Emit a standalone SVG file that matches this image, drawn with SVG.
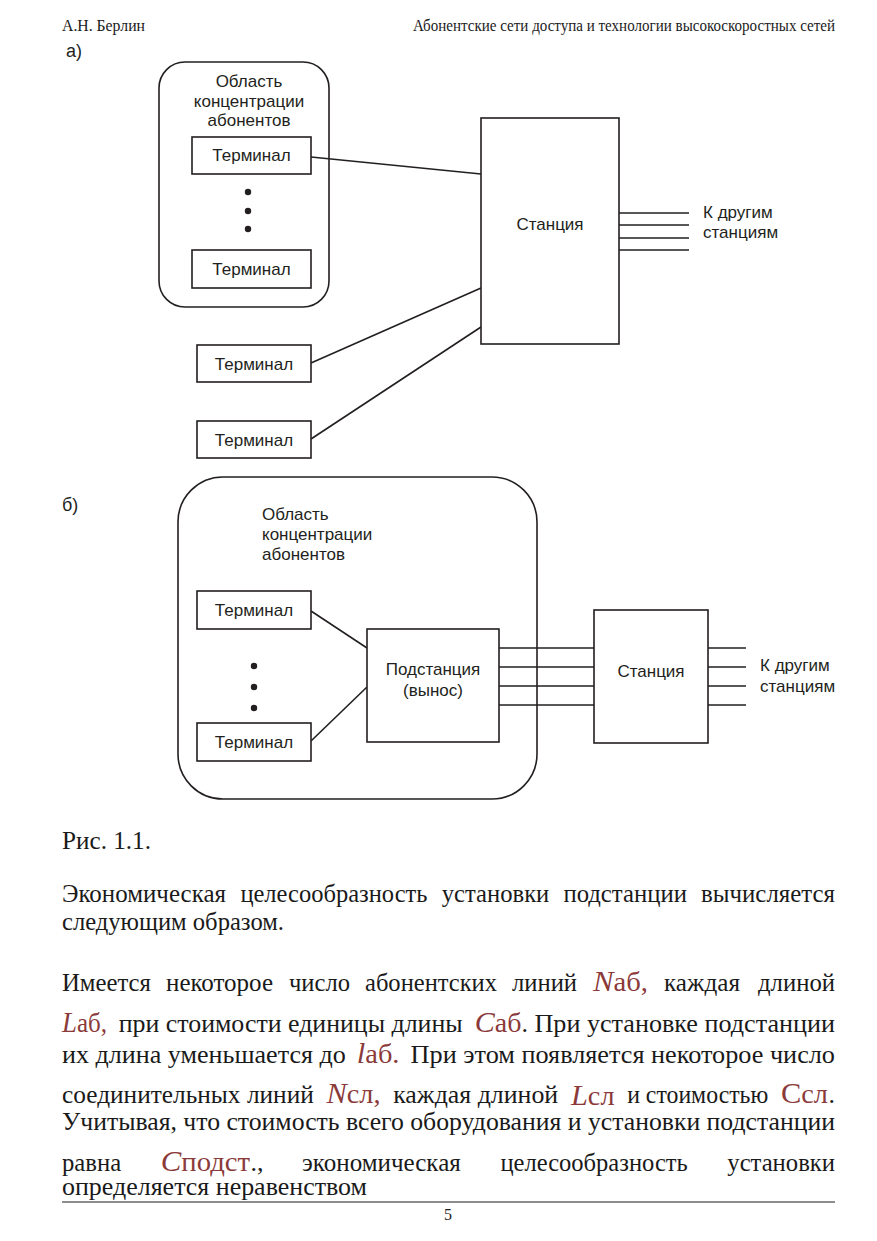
<svg xmlns="http://www.w3.org/2000/svg" width="877" height="1241" viewBox="0 0 877 1241">
<style>
.d{font-family:"Liberation Sans",Arial,sans-serif;font-size:17px;fill:#231f20}
.ln{stroke:#231f20;stroke-width:1.6;fill:none}
.box{stroke:#231f20;stroke-width:1.6;fill:#fff}
.b{font-family:"Liberation Serif","Times New Roman",serif;font-size:26px;fill:#1a1a1a}
.h{font-family:"Liberation Serif","Times New Roman",serif;font-size:16px;fill:#1a1a1a}
.m{font-family:"Liberation Serif","Times New Roman",serif;font-size:27px;fill:#8b3a3a}
.mi{font-style:italic;font-size:29px}
</style>
<rect width="877" height="1241" fill="#fff"/>
<g id="header">
<text class="h" x="62" y="31" textLength="83" lengthAdjust="spacingAndGlyphs">А.Н. Берлин</text>
<text class="h" x="413" y="31" textLength="422" lengthAdjust="spacingAndGlyphs">Абонентские сети доступа и технологии высокоскоростных сетей</text>
</g>
<text class="d" x="66" y="57" style="font-size:18px">а)</text>
<g id="area-a">
<rect class="ln" x="159" y="62" width="170" height="245" rx="26"/>
<text class="d" x="249" y="87" text-anchor="middle">Область</text>
<text class="d" x="249" y="107" text-anchor="middle">концентрации</text>
<text class="d" x="249" y="126" text-anchor="middle">абонентов</text>
<circle cx="248" cy="192" r="3.2" fill="#231f20"/>
<circle cx="248" cy="211" r="3.2" fill="#231f20"/>
<circle cx="248" cy="229" r="3.2" fill="#231f20"/>
</g>
<g id="area-b">
<rect class="ln" x="178" y="477" width="359" height="322" rx="45"/>
<text class="d" x="262" y="520">Область</text>
<text class="d" x="262" y="540">концентрации</text>
<text class="d" x="262" y="560">абонентов</text>
<circle cx="254" cy="666" r="3.2" fill="#231f20"/>
<circle cx="254" cy="687" r="3.2" fill="#231f20"/>
<circle cx="254" cy="708" r="3.2" fill="#231f20"/>
</g>
<g id="connectors">
<line class="ln" x1="311" y1="157" x2="481" y2="174"/>
<line class="ln" x1="311" y1="363" x2="481" y2="288"/>
<line class="ln" x1="311" y1="439" x2="481" y2="327"/>
<line class="ln" x1="619" y1="213" x2="689" y2="213"/>
<line class="ln" x1="619" y1="225" x2="689" y2="225"/>
<line class="ln" x1="619" y1="238" x2="689" y2="238"/>
<line class="ln" x1="619" y1="250" x2="689" y2="250"/>
<line class="ln" x1="311" y1="611" x2="367" y2="648"/>
<line class="ln" x1="311" y1="741" x2="367" y2="687"/>
<line class="ln" x1="499" y1="648" x2="594" y2="648"/>
<line class="ln" x1="499" y1="667" x2="594" y2="667"/>
<line class="ln" x1="499" y1="686" x2="594" y2="686"/>
<line class="ln" x1="499" y1="705" x2="594" y2="705"/>
<line class="ln" x1="708" y1="648" x2="746" y2="648"/>
<line class="ln" x1="708" y1="667" x2="746" y2="667"/>
<line class="ln" x1="708" y1="686" x2="746" y2="686"/>
<line class="ln" x1="708" y1="705" x2="746" y2="705"/>
</g>
<g id="term-a1"><rect class="box" x="192" y="137" width="119" height="37"/><text class="d" x="251.5" y="161" text-anchor="middle">Терминал</text></g>
<g id="term-a2"><rect class="box" x="192" y="250" width="119" height="38"/><text class="d" x="251.5" y="275" text-anchor="middle">Терминал</text></g>
<g id="term-a3"><rect class="box" x="197" y="345" width="114" height="37"/><text class="d" x="254" y="370" text-anchor="middle">Терминал</text></g>
<g id="term-a4"><rect class="box" x="197" y="421" width="114" height="37"/><text class="d" x="254" y="446" text-anchor="middle">Терминал</text></g>
<g id="station-a"><rect class="box" x="481" y="118" width="138" height="226"/><text class="d" x="550" y="230" text-anchor="middle">Станция</text></g>
<g id="label-a"><text class="d" x="703" y="218">К другим</text><text class="d" x="703" y="238">станциям</text></g>
<text class="d" x="62" y="511" style="font-size:18px">б)</text>
<g id="term-b1"><rect class="box" x="197" y="591" width="114" height="38"/><text class="d" x="254" y="616" text-anchor="middle">Терминал</text></g>
<g id="term-b2"><rect class="box" x="197" y="723" width="114" height="38"/><text class="d" x="254" y="748" text-anchor="middle">Терминал</text></g>
<g id="substation"><rect class="box" x="367" y="629" width="132" height="113"/><text class="d" x="433" y="675" text-anchor="middle">Подстанция</text><text class="d" x="433" y="696" text-anchor="middle">(вынос)</text></g>
<g id="station-b"><rect class="box" x="594" y="610" width="114" height="133"/><text class="d" x="651" y="677" text-anchor="middle">Станция</text></g>
<g id="label-b"><text class="d" x="760" y="671">К другим</text><text class="d" x="760" y="692">станциям</text></g>
<g id="body">
<text class="b" x="62" y="849" textLength="89" lengthAdjust="spacingAndGlyphs">Рис. 1.1.</text>
<g id="p1l1">
<text class="b" x="62" y="902" textLength="164" lengthAdjust="spacingAndGlyphs">Экономическая</text>
<text class="b" x="240.4" y="902" textLength="187" lengthAdjust="spacingAndGlyphs">целесообразность</text>
<text class="b" x="441.8" y="902" textLength="107.5" lengthAdjust="spacingAndGlyphs">установки</text>
<text class="b" x="563.4" y="902" textLength="123.5" lengthAdjust="spacingAndGlyphs">подстанции</text>
<text class="b" x="701" y="902" textLength="134" lengthAdjust="spacingAndGlyphs">вычисляется</text>
</g>
<text class="b" x="62" y="930" textLength="222" lengthAdjust="spacingAndGlyphs">следующим образом.</text>
<g id="p2l1">
<text class="b" x="62" y="991" textLength="89" lengthAdjust="spacingAndGlyphs">Имеется</text>
<text class="b" x="166" y="991" textLength="107" lengthAdjust="spacingAndGlyphs">некоторое</text>
<text class="b" x="289" y="991" textLength="61" lengthAdjust="spacingAndGlyphs">число</text>
<text class="b" x="365" y="991" textLength="132" lengthAdjust="spacingAndGlyphs">абонентских</text>
<text class="b" x="512" y="991" textLength="65" lengthAdjust="spacingAndGlyphs">линий</text>
<text class="m" x="593" y="991" textLength="55" lengthAdjust="spacingAndGlyphs"><tspan class="mi">N</tspan>аб,</text>
<text class="b" x="664" y="991" textLength="76" lengthAdjust="spacingAndGlyphs">каждая</text>
<text class="b" x="758" y="991" textLength="77" lengthAdjust="spacingAndGlyphs">длиной</text>
</g>
<g id="p2l2">
<text class="m" x="62" y="1032" textLength="45" lengthAdjust="spacingAndGlyphs"><tspan class="mi">L</tspan>аб,</text>
<text class="b" x="118.7" y="1032" textLength="344" lengthAdjust="spacingAndGlyphs">при стоимости единицы длины</text>
<text class="m" x="474.7" y="1032" textLength="46.7" lengthAdjust="spacingAndGlyphs"><tspan class="mi">C</tspan>аб</text>
<text class="b" x="521.4" y="1032" textLength="313.6" lengthAdjust="spacingAndGlyphs">. При установке подстанции</text>
</g>
<g id="p2l3">
<text class="b" x="62" y="1063" textLength="283.8" lengthAdjust="spacingAndGlyphs">их длина уменьшается до</text>
<text class="m" x="356.8" y="1063" textLength="42.7" lengthAdjust="spacingAndGlyphs"><tspan class="mi">l</tspan>аб.</text>
<text class="b" x="410.6" y="1063" textLength="424.4" lengthAdjust="spacingAndGlyphs">При этом появляется некоторое число</text>
</g>
<g id="p2l4">
<text class="b" x="62" y="1103" textLength="251.8" lengthAdjust="spacingAndGlyphs">соединительных линий</text>
<text class="m" x="326.5" y="1103" textLength="54" lengthAdjust="spacingAndGlyphs"><tspan class="mi">N</tspan>сл,</text>
<text class="b" x="393.2" y="1103" textLength="165" lengthAdjust="spacingAndGlyphs">каждая длиной</text>
<text class="m" x="571" y="1105" textLength="43.5" lengthAdjust="spacingAndGlyphs"><tspan class="mi">L</tspan>сл</text>
<text class="b" x="627.2" y="1103" textLength="141" lengthAdjust="spacingAndGlyphs">и стоимостью</text>
<text class="m" x="781" y="1103" textLength="47" lengthAdjust="spacingAndGlyphs"><tspan style="font-size:29px">С</tspan>сл</text>
<text class="b" x="828.5" y="1103">.</text>
</g>
<text class="b" x="62" y="1130" textLength="773" lengthAdjust="spacingAndGlyphs">Учитывая, что стоимость всего оборудования и установки подстанции</text>
<g id="p2l6">
<text class="b" x="62" y="1171" textLength="59.2" lengthAdjust="spacingAndGlyphs">равна</text>
<text class="m" x="160.8" y="1171" textLength="89.3" lengthAdjust="spacingAndGlyphs"><tspan class="mi">C</tspan>подст</text>
<text class="b" x="250.5" y="1171">.,</text>
<text class="b" x="302.1" y="1171" textLength="158.7" lengthAdjust="spacingAndGlyphs">экономическая</text>
<text class="b" x="500.4" y="1171" textLength="187.3" lengthAdjust="spacingAndGlyphs">целесообразность</text>
<text class="b" x="727.3" y="1171" textLength="107.7" lengthAdjust="spacingAndGlyphs">установки</text>
</g>
<text class="b" x="62" y="1195" textLength="305" lengthAdjust="spacingAndGlyphs">определяется неравенством</text>
</g>
<g id="footer">
<line x1="62" y1="1202" x2="835" y2="1202" stroke="#1a1a1a" stroke-width="1"/>
<text class="h" x="448" y="1220" text-anchor="middle">5</text>
</g>
</svg>
